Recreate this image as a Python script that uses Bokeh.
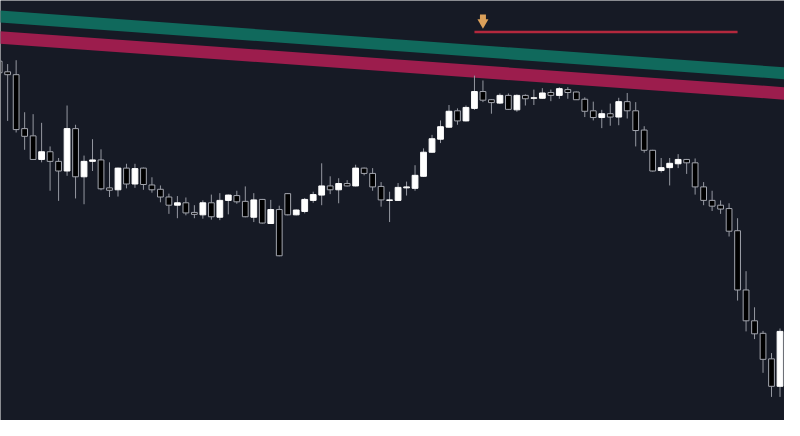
from bokeh.plotting import figure
from bokeh.models import ColumnDataSource, Range1d
from bokeh.embed import file_html
from bokeh.resources import INLINE

# ---- data (prices) ----
opens = [93.70, 92.60, 92.30, 86.70, 85.95, 83.50, 84.30, 83.30, 82.30, 86.70,
         81.70, 83.30, 83.45, 80.55, 80.35, 82.60, 80.95, 82.60, 80.85, 80.40,
         79.60, 78.75, 79.00, 78.00, 77.75, 79.00, 77.50, 79.25, 79.75, 79.15,
         77.50, 79.35, 76.85, 78.30, 79.95, 77.75, 78.10, 79.25, 79.80, 80.75,
         80.35, 81.00, 80.75, 82.60, 82.05, 80.70, 79.25, 79.25, 80.55, 80.50,
         81.75, 84.25, 85.60, 86.85, 88.55, 87.50, 88.80, 90.55, 89.70, 89.35,
         90.15, 88.65, 90.15, 89.85, 89.85, 90.45, 90.15, 90.75, 90.50, 89.75,
         88.55, 87.85, 88.25, 87.90, 89.50, 88.55, 86.55, 84.45, 82.35, 82.65,
         83.05, 83.50, 83.15, 80.65, 79.25, 78.75, 78.40, 76.10, 69.95, 66.75,
         65.45, 62.80, 59.95]
highs = [94.00, 93.40, 93.80, 88.40, 88.20, 87.30, 84.85, 83.65, 89.10, 87.10,
         83.90, 85.60, 84.55, 83.20, 82.65, 83.05, 83.05, 82.65, 81.65, 80.80,
         79.95, 79.70, 79.55, 78.75, 79.25, 79.85, 80.00, 79.85, 80.25, 80.70,
         80.00, 79.40, 79.30, 78.70, 80.00, 78.30, 79.50, 80.15, 83.10, 81.75,
         81.55, 81.35, 82.95, 82.65, 82.60, 81.15, 80.15, 81.05, 81.20, 82.90,
         84.65, 86.05, 87.55, 89.15, 88.80, 89.10, 92.20, 91.70, 89.75, 90.35,
         90.35, 90.25, 90.25, 90.75, 90.90, 90.75, 91.00, 91.00, 90.55, 89.95,
         89.50, 88.65, 89.30, 89.90, 90.40, 89.45, 86.95, 84.50, 83.65, 83.65,
         84.05, 83.55, 83.60, 81.15, 80.25, 79.25, 78.95, 77.40, 71.90, 68.15,
         65.70, 63.40, 65.95]
lows = [92.20, 87.50, 86.30, 84.50, 83.45, 83.20, 80.25, 79.20, 81.80, 79.45,
        78.85, 82.30, 80.30, 79.60, 79.65, 80.50, 80.55, 80.35, 80.05, 79.05,
        77.85, 77.40, 77.70, 77.40, 77.35, 77.25, 77.20, 77.80, 78.90, 77.50,
        77.00, 76.85, 76.80, 73.45, 77.70, 77.70, 77.90, 79.00, 78.75, 79.90,
        78.95, 80.70, 80.70, 81.85, 80.25, 78.60, 77.00, 79.20, 79.75, 80.25,
        81.70, 84.20, 85.20, 86.80, 87.10, 87.45, 88.65, 89.45, 88.25, 89.25,
        88.65, 88.45, 89.10, 89.15, 89.80, 89.55, 89.80, 89.80, 89.70, 87.90,
        87.55, 86.75, 87.00, 87.05, 87.75, 84.85, 84.20, 82.25, 82.15, 80.80,
        82.60, 82.00, 79.85, 78.75, 78.15, 77.85, 75.50, 68.85, 65.65, 64.85,
        61.35, 58.85, 58.85]
closes = [92.50, 92.30, 86.60, 85.90, 83.50, 84.30, 83.30, 82.30, 86.70, 81.70,
          83.30, 83.45, 80.45, 80.30, 82.60, 80.95, 82.55, 80.90, 80.35, 79.60,
          78.75, 79.00, 77.95, 77.80, 79.00, 77.55, 79.25, 79.80, 79.10, 77.55,
          79.30, 76.90, 78.30, 73.50, 77.75, 78.25, 79.35, 79.85, 80.75, 80.35,
          81.00, 80.75, 82.60, 82.05, 80.65, 79.30, 79.30, 80.60, 80.65, 81.85,
          84.25, 85.65, 86.90, 88.50, 87.50, 88.90, 90.55, 89.65, 89.40, 90.15,
          88.70, 90.15, 89.80, 89.90, 90.40, 90.15, 90.85, 90.45, 89.70, 88.50,
          87.85, 88.25, 87.90, 89.50, 88.55, 86.50, 84.45, 82.30, 82.65, 83.10,
          83.50, 83.15, 80.65, 79.25, 78.65, 78.35, 76.05, 69.95, 66.75, 65.40,
          62.75, 59.95, 65.65]
bar_index = list(range(len(opens)))

# trend bands: price at bar 0 and bar 93 (upper edge, lower edge)
band_x = [0, 93]
teal_upper = [98.96, 93.04]
teal_lower = [97.72, 91.80]
crimson_upper = [96.82, 90.97]
crimson_lower = [95.52, 89.67]

# horizontal level and marker
level_price = 96.73
level_x = [56, 87]
marker_bar = 57
marker_head_price = 97.72
marker_stem_price = 98.23

# ---- styling ----
BG = "#161a25"
UP_FILL = "#ffffff"
DOWN_FILL = "#000000"
OUTLINE = "#a3a6af"
WICK = "#9598a1"

up = [c >= o for o, c in zip(opens, closes)]
src_up = ColumnDataSource(dict(
    x=[i for i, u in zip(bar_index, up) if u],
    top=[max(o, c) for o, c, u in zip(opens, closes, up) if u],
    bottom=[min(o, c) for o, c, u in zip(opens, closes, up) if u],
))
src_dn = ColumnDataSource(dict(
    x=[i for i, u in zip(bar_index, up) if not u],
    top=[max(o, c) for o, c, u in zip(opens, closes, up) if not u],
    bottom=[min(o, c) for o, c, u in zip(opens, closes, up) if not u],
))
src_wick = ColumnDataSource(dict(x=bar_index, high=highs, low=lows))

p = figure(width=784, height=420, output_backend="svg", toolbar_location=None,
           x_range=Range1d(0.157, 92.53), y_range=Range1d(56.4, 100.0),
           background_fill_color=BG, border_fill_color=BG, min_border=0)
p.outline_line_color = None
p.xaxis.visible = False
p.yaxis.visible = False
p.grid.visible = False

# bands
p.patch(x=band_x + band_x[::-1], y=teal_upper + teal_lower[::-1],
        fill_color="#10695c", line_color=None)
p.patch(x=band_x + band_x[::-1], y=crimson_upper + crimson_lower[::-1],
        fill_color="#9c1d4d", line_color=None)

# candles
p.segment(x0="x", y0="high", x1="x", y1="low", source=src_wick,
          line_color=WICK, line_width=1)
p.vbar(x="x", top="top", bottom="bottom", width=0.68, source=src_dn,
       fill_color=DOWN_FILL, line_color=OUTLINE, line_width=1)
p.vbar(x="x", top="top", bottom="bottom", width=0.68, source=src_up,
       fill_color=UP_FILL, line_color=UP_FILL, line_width=1)

# level line and marker
p.line(x=level_x, y=[level_price, level_price], line_color="#b3283d", line_width=2.5)
p.rect(x=[marker_bar], y=[marker_stem_price], width=6, height=6,
       width_units="screen", height_units="screen",
       fill_color="#dba05a", line_color=None)
p.scatter(x=[marker_bar], y=[marker_head_price], marker="inverted_triangle",
          size=11, fill_color="#dba05a", line_color=None)

open("out.html", "w").write(file_html(p, INLINE))
